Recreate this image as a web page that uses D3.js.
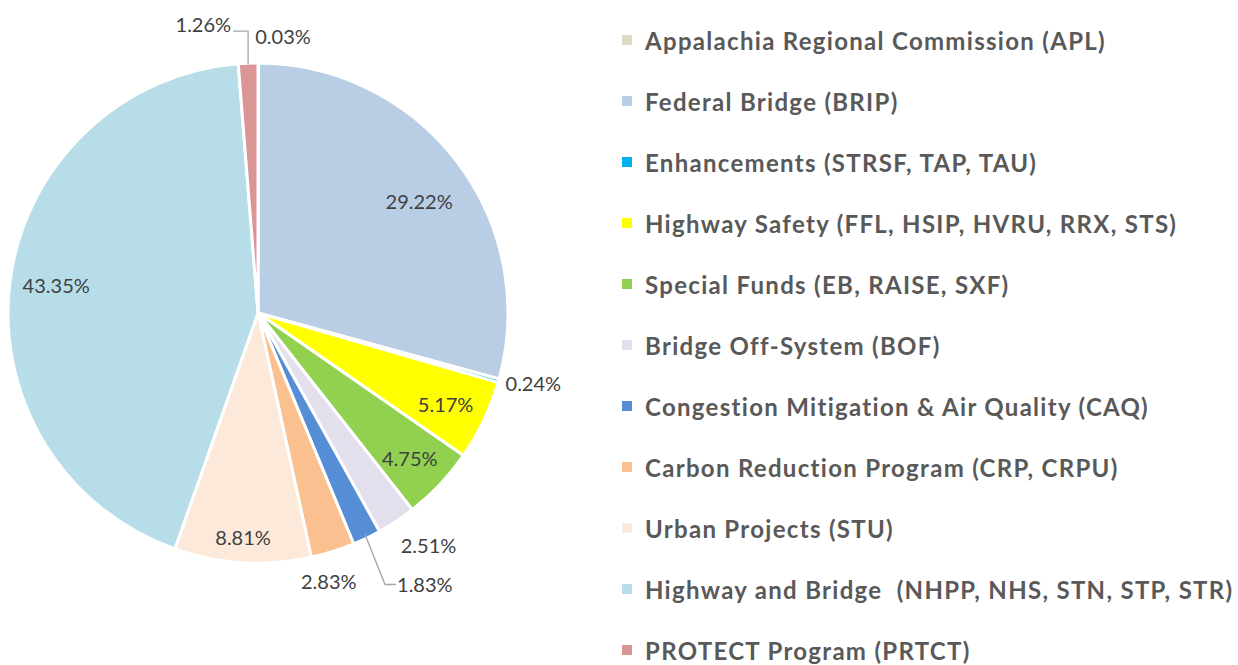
<!DOCTYPE html>
<html>
<head>
<meta charset="utf-8">
<script src="https://cdn.jsdelivr.net/npm/d3@7"></script>
<style>
  body { margin: 0; background: #fff; }
  text { font-family: Lato, "Open Sans", sans-serif; }
</style>
</head>
<body>
<div id="chart"></div>
<script>
/* Share of funding by program, pie with legend on the right */

const categories = [
    "Appalachia Regional Commission (APL)",
    "Federal Bridge (BRIP)",
    "Enhancements (STRSF, TAP, TAU)",
    "Highway Safety (FFL, HSIP, HVRU, RRX, STS)",
    "Special Funds (EB, RAISE, SXF)",
    "Bridge Off-System (BOF)",
    "Congestion Mitigation & Air Quality (CAQ)",
    "Carbon Reduction Program (CRP, CRPU)",
    "Urban Projects (STU)",
    "Highway and Bridge  (NHPP, NHS, STN, STP, STR)",
    "PROTECT Program (PRTCT)"
];
const shares = [0.03, 29.22, 0.24, 5.17, 4.75, 2.51, 1.83, 2.83, 8.81, 43.35, 1.26];
const colors = ["#DDD9C3", "#B9CDE5", "#00B0F0", "#FFFF00", "#92D050", "#E4DFEC",
                "#558ED5", "#FAC090", "#FDE9D9", "#B7DEE8", "#D99694"];

const width = 1238,
      height = 665,
      cx = 258, cy = 313,
      radius = 250;

const svg = d3.select("#chart")
    .append("svg")
    .attr("width", width)
    .attr("height", height)
    .attr("viewBox", [0, 0, width, height]);

const data = categories.map((c, i) => ({ name: c, value: shares[i], color: colors[i] }));

/* pie starts at 12 o'clock and goes clockwise, keep the given order */
const pie = d3.pie().sort(null).value(d => d.value);
const arcs = pie(data);

const arc = d3.arc().innerRadius(0).outerRadius(radius);

const g = svg.append("g").attr("transform", `translate(${cx},${cy})`);

g.selectAll("path")
    .data(arcs)
    .join("path")
    .attr("d", arc)
    .attr("fill", d => d.data.color)
    .attr("stroke", "#fff")
    .attr("stroke-width", 3)
    .attr("stroke-linejoin", "round");

/* label radius as fraction of pie radius, plus a small pixel nudge (like excel's best fit) */
const labelPos = [1.15, 0.80, 1.14, 0.84, 0.84, 1.16, 1.2, 1.12, 0.9, 0.81, 1.15];
const nudge = [[0, 0], [2, 9], [1, -7], [-2, 1], [-1, 1], [10, -10], [0, 0], [-13, 1], [-1, -1], [-1, -2], [0, 0]];

const labels = g.selectAll(".lbl")
    .data(arcs)
    .join("text")
    .attr("class", "lbl")
    .attr("text-anchor", "middle")
    .attr("dominant-baseline", "central")
    .attr("font-size", 20)
    .attr("fill", "#404040")
    .text(d => d.data.value.toFixed(2) + "%")
    .attr("transform", (d, i) => {
        const a = (d.startAngle + d.endAngle) / 2;
        const r = radius * labelPos[i];
        return `translate(${r * Math.sin(a) + nudge[i][0]},${-r * Math.cos(a) + nudge[i][1]})`;
    });

/* small slices with leader lines: APL label nudged right, PROTECT and CAQ with elbows */
const edge = (d, r) => {
    const a = (d.startAngle + d.endAngle) / 2;
    return [r * Math.sin(a), -r * Math.cos(a)];
};

// APL 0.03%
labels.filter((d, i) => i === 0)
    .attr("text-anchor", "start")
    .attr("transform", d => {
        const p = edge(d, radius);
        return `translate(${p[0] - 3},${p[1] - 27})`;
    });

// PROTECT 1.26%
const protect = arcs[10];
const pp = edge(protect, radius);
g.append("path")
    .attr("d", `M${pp[0]},${pp[1] + 1}V${pp[1] - 32}H${pp[0] - 15}`)
    .attr("fill", "none")
    .attr("stroke", "#A6A6A6")
    .attr("stroke-width", 1.3);
labels.filter((d, i) => i === 10)
    .attr("text-anchor", "end")
    .attr("transform", `translate(${pp[0] - 17},${pp[1] - 39})`);

// CAQ 1.83%
const caq = arcs[6];
const cp = edge(caq, radius - 4);
g.append("path")
    .attr("d", `M${cp[0]},${cp[1]}L${cp[0] + 20},${cp[1] + 50}H${cp[0] + 31}`)
    .attr("fill", "none")
    .attr("stroke", "#A6A6A6")
    .attr("stroke-width", 1.3);
labels.filter((d, i) => i === 6)
    .attr("text-anchor", "start")
    .attr("transform", `translate(${cp[0] + 32},${cp[1] + 50})`);

/* legend */
const legend = svg.append("g")
    .selectAll("g")
    .data(data)
    .join("g")
    .attr("transform", (d, i) => `translate(622,${40 + i * 61})`);

legend.append("rect")
    .attr("x", 0)
    .attr("y", -5)
    .attr("width", 10)
    .attr("height", 10)
    .attr("fill", d => d.color);

legend.append("text")
    .attr("x", 23)
    .attr("dominant-baseline", "central")
    .attr("font-size", 24)
    .attr("font-weight", "bold")
    .attr("letter-spacing", 1.3)
    .attr("fill", "#595959")
    .style("white-space", "pre")
    .text(d => d.name);
</script>
</body>
</html>
